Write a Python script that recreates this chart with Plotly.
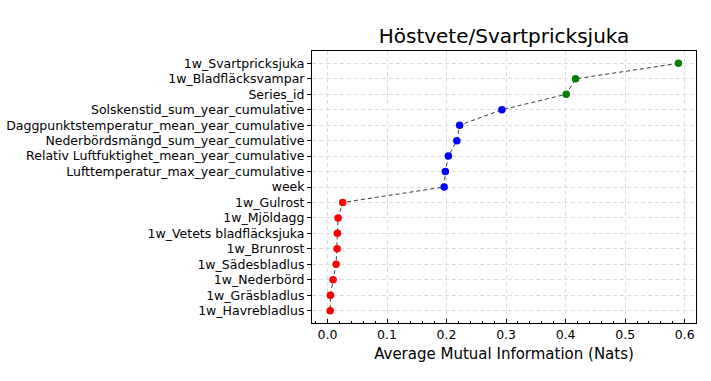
import plotly.graph_objects as go

features = [
    "1w_Svartpricksjuka", "1w_Bladfläcksvampar", "Series_id",
    "Solskenstid_sum_year_cumulative", "Daggpunktstemperatur_mean_year_cumulative",
    "Nederbördsmängd_sum_year_cumulative", "Relativ Luftfuktighet_mean_year_cumulative",
    "Lufttemperatur_max_year_cumulative", "week", "1w_Gulrost", "1w_Mjöldagg",
    "1w_Vetets bladfläcksjuka", "1w_Brunrost", "1w_Sädesbladlus", "1w_Nederbörd",
    "1w_Gräsbladlus", "1w_Havrebladlus",
]
mi_values = [0.5895, 0.4167, 0.401, 0.293, 0.222, 0.2173, 0.203, 0.198, 0.196,
             0.0256, 0.0178, 0.0167, 0.0162, 0.0145, 0.0095, 0.005, 0.0045]
groups = ["green"] * 3 + ["blue"] * 6 + ["red"] * 8
group_colors = {"green": "#008000", "blue": "#0000ff", "red": "#ff0000"}
x_ticks = [0.0, 0.1, 0.2, 0.3, 0.4, 0.5, 0.6]

font = "DejaVu Sans"
fig = go.Figure()
fig.add_trace(go.Scatter(
    x=mi_values, y=features, mode="lines",
    line=dict(color="#3a3a3a", width=1, dash="4px,3px"),
    hoverinfo="skip", showlegend=False,
))
fig.add_trace(go.Scatter(
    x=mi_values, y=features, mode="markers",
    marker=dict(color=[group_colors[g] for g in groups], size=7.5),
    showlegend=False,
))

W, H = 711, 381
L, R, T, B = 312, 15, 51, 58
n = len(features)
fig.update_layout(
    width=W, height=H,
    margin=dict(l=L, r=R, t=T, b=B, autoexpand=False),
    paper_bgcolor="white", plot_bgcolor="white",
    font=dict(family=font, color="black", size=12),
    title=dict(text="Höstvete/Svartpricksjuka", x=(L + (W - L - R) / 2) / W, xanchor="center",
               y=1 - 36 / H, yanchor="middle", font=dict(size=20, family=font)),
)
grid = dict(showgrid=True, gridcolor="#dcdcdc", griddash="4px,3px", gridwidth=1)
fig.update_xaxes(
    range=[-0.026, 0.619],
    tickvals=x_ticks, ticktext=[f"{v:.1f}" for v in x_ticks],
    ticks="inside", ticklen=4, tickcolor="black",
    minor=dict(ticks="inside", dtick=0.02, tick0=0, ticklen=2, tickcolor="black", showgrid=False),
    showline=True, linecolor="black", linewidth=1, mirror=True,
    zeroline=False,
    title=dict(text="Average Mutual Information (Nats)", font=dict(size=15, family=font), standoff=7),
    tickfont=dict(size=12.5),
    **grid,
)
fig.update_yaxes(
    type="category", categoryorder="array", categoryarray=features,
    range=[n - 1 + 0.8, -0.8],
    ticks="outside", ticklen=4, tickcolor="black",
    showline=True, linecolor="black", linewidth=1, mirror=True,
    zeroline=False, tickfont=dict(size=12.5),
    **grid,
)

# remove the page's default 8px body margin so the figure fills the window
fig.write_html("out.html", config={"displayModeBar": False},
               post_script="document.body.style.margin='0';")
